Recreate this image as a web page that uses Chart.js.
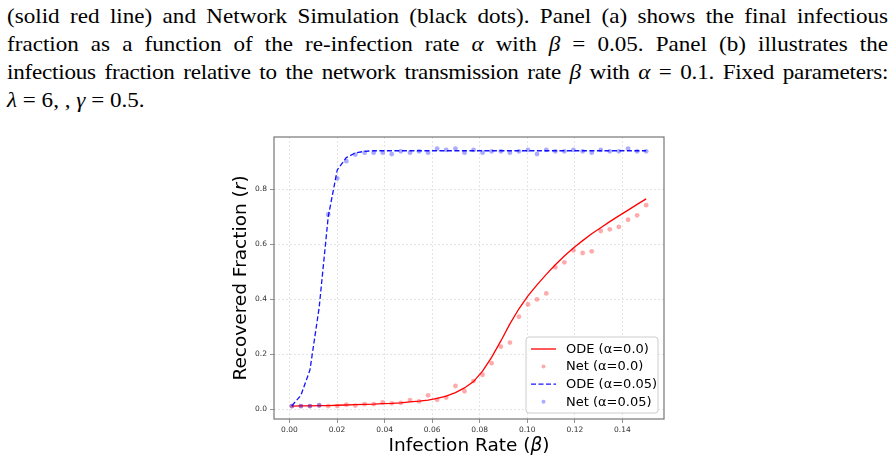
<!DOCTYPE html>
<html>
<head>
<meta charset="utf-8">
<script src="https://cdn.jsdelivr.net/npm/chart.js@4.4.1/dist/chart.umd.min.js"></script>
<style>
    body { margin: 0; background: #fff; width: 895px; height: 463px; overflow: hidden; position: relative; }
    /* Times is narrower than the LaTeX font, so stretch it a bit */
    .cap { position: absolute; left: 7px; width: 801px; transform: scaleX(1.1); transform-origin: 0 0;
           font-family: "Liberation Serif", serif; font-size: 21px; line-height: 28px; color: #000; white-space: nowrap; }
    .cap.just { white-space: normal; text-align: justify; text-align-last: justify; }
    #wrap { position: absolute; left: 220px; top: 125px; width: 460px; height: 338px; }
</style>
</head>
<body>
<div class="cap just" style="top:2px">(solid red line) and Network Simulation (black dots). Panel (a) shows the final infectious</div>
<div class="cap just" style="top:30px">fraction as a function of the re-infection rate <i>α</i> with <i>β</i> = 0.05. Panel (b) illustrates the</div>
<div class="cap just" style="top:58px;letter-spacing:-0.2px">infectious fraction relative to the network transmission rate <i>β</i> with <i>α</i> = 0.1. Fixed parameters:</div>
<div class="cap" style="top:86px"><i>λ</i> = 6, , <i>γ</i> = 0.5.</div>

<div id="wrap"><canvas id="recChart" width="460" height="338"></canvas></div>

<script>
// infection rate beta (x)
var betaValues = [0.001, 0.0048, 0.0086, 0.0125, 0.0163, 0.0201, 0.0239, 0.0277, 0.0316, 0.0354,
    0.0392, 0.0430, 0.0468, 0.0507, 0.0545, 0.0583, 0.0621, 0.0659, 0.0698, 0.0736,
    0.0774, 0.0812, 0.0850, 0.0889, 0.0927, 0.0965, 0.1003, 0.1041, 0.1080, 0.1118,
    0.1156, 0.1194, 0.1233, 0.1271, 0.1309, 0.1347, 0.1385, 0.1424, 0.1462, 0.15];

// ODE, alpha = 0.0
var odeA0 = [0.011, 0.012, 0.012, 0.013, 0.013, 0.014, 0.015, 0.016, 0.017, 0.018,
    0.020, 0.021, 0.023, 0.026, 0.029, 0.033, 0.039, 0.047, 0.060, 0.077,
    0.100, 0.138, 0.188, 0.248, 0.310, 0.365, 0.412, 0.452, 0.490, 0.525,
    0.557, 0.586, 0.613, 0.638, 0.660, 0.682, 0.703, 0.724, 0.745, 0.765];

// network sim, alpha = 0.0
var netA0 = [0.011, 0.011, 0.011, 0.013, 0.011, 0.011, 0.016, 0.013, 0.018, 0.018,
    0.024, 0.021, 0.023, 0.033, 0.028, 0.050, 0.034, 0.042, 0.084, 0.065,
    0.102, 0.125, 0.167, 0.227, 0.242, 0.336, 0.381, 0.399, 0.421, 0.516,
    0.534, 0.578, 0.568, 0.574, 0.648, 0.654, 0.663, 0.689, 0.705, 0.742];

// ODE, alpha = 0.05
var odeA05 = [0.012, 0.050, 0.142, 0.370, 0.700, 0.870, 0.915, 0.932, 0.938, 0.940,
    0.940, 0.940, 0.940, 0.940, 0.940, 0.940, 0.940, 0.940, 0.940, 0.940,
    0.940, 0.940, 0.940, 0.940, 0.940, 0.940, 0.940, 0.940, 0.940, 0.940,
    0.940, 0.940, 0.940, 0.940, 0.940, 0.940, 0.940, 0.940, 0.940, 0.940];

// network sim, alpha = 0.05
var netA05 = [0.011, 0.011, 0.011, 0.014, 0.708, 0.839, 0.902, 0.926, 0.933, 0.933,
    0.933, 0.928, 0.938, 0.933, 0.938, 0.933, 0.948, 0.943, 0.948, 0.933,
    0.943, 0.933, 0.938, 0.938, 0.933, 0.938, 0.943, 0.928, 0.943, 0.938,
    0.938, 0.943, 0.938, 0.933, 0.943, 0.938, 0.938, 0.948, 0.938, 0.938];

var xTicks = [0.00, 0.02, 0.04, 0.06, 0.08, 0.10, 0.12, 0.14];
var yTicks = [0.0, 0.2, 0.4, 0.6, 0.8];

var FONT = '"DejaVu Sans", sans-serif';
var FRAME = '#777';

function toPoints(xs, ys) {
    return xs.map(function(x, i) { return { x: x, y: ys[i] }; });
}

// draws text pieces, some italic, centred on (cx, cy)
function drawMixed(ctx, parts, cx, cy, rot) {
    ctx.save();
    ctx.translate(cx, cy);
    ctx.rotate(rot);
    ctx.textBaseline = 'middle';
    ctx.textAlign = 'left';
    ctx.fillStyle = '#000';
    var total = 0;
    parts.forEach(function(p) {
        ctx.font = (p[1] ? 'italic ' : '') + '18.5px ' + FONT;
        total += ctx.measureText(p[0]).width;
    });
    var x = -total / 2;
    parts.forEach(function(p) {
        ctx.font = (p[1] ? 'italic ' : '') + '18.5px ' + FONT;
        ctx.fillText(p[0], x, 0);
        x += ctx.measureText(p[0]).width;
    });
    ctx.restore();
}

var extras = {
    id: 'extras',
    afterDraw: function(chart) {
        var ctx = chart.ctx;
        var a = chart.chartArea;
        ctx.save();

        // frame around the plot
        ctx.strokeStyle = FRAME;
        ctx.lineWidth = 1.2;
        ctx.setLineDash([]);
        ctx.strokeRect(a.left, a.top, a.right - a.left, a.bottom - a.top);

        // axis titles
        drawMixed(ctx, [['Infection Rate (', false], ['β', true], [')', false]], (a.left + a.right) / 2, 321, 0);
        drawMixed(ctx, [['Recovered Fraction (', false], ['r', true], [')', false]], 21, (a.top + a.bottom) / 2, -Math.PI / 2);

        // legend box, lower right inside the plot
        var w = 132, h = 76;
        var lx = a.right - 6 - w, ly = a.bottom - 6 - h;
        ctx.fillStyle = 'rgba(255,255,255,0.85)';
        ctx.strokeStyle = '#cccccc';
        ctx.lineWidth = 1;
        ctx.beginPath();
        ctx.roundRect(lx, ly, w, h, 3);
        ctx.fill();
        ctx.stroke();

        ctx.font = '13px ' + FONT;
        ctx.textBaseline = 'middle';
        ctx.textAlign = 'left';
        chart.data.datasets.forEach(function(ds, i) {
            var ry = ly + 12 + i * 17.6;
            if (ds.showLine) {
                ctx.strokeStyle = ds.borderColor;
                ctx.lineWidth = ds.borderWidth;
                ctx.setLineDash(ds.borderDash || []);
                ctx.beginPath();
                ctx.moveTo(lx + 5, ry);
                ctx.lineTo(lx + 30, ry);
                ctx.stroke();
                ctx.setLineDash([]);
            } else {
                ctx.fillStyle = ds.backgroundColor;
                ctx.beginPath();
                ctx.arc(lx + 17.5, ry, 2, 0, Math.PI * 2);
                ctx.fill();
            }
            ctx.fillStyle = '#000';
            ctx.fillText(ds.label, lx + 40, ry + 0.5);
        });
        ctx.restore();
    }
};

var ctx = document.getElementById('recChart').getContext('2d');

var recChart = new Chart(ctx, {
    type: 'scatter',
    data: {
        datasets: [
            {
                label: 'ODE (α=0.0)',
                data: toPoints(betaValues, odeA0),
                showLine: true,
                borderColor: 'rgb(255,0,0)',
                borderWidth: 1.3,
                pointRadius: 0,
                tension: 0,
                order: 4
            },
            {
                label: 'Net (α=0.0)',
                data: toPoints(betaValues, netA0),
                showLine: false,
                backgroundColor: 'rgba(255,0,0,0.33)',
                borderWidth: 0,
                pointRadius: 2.4,
                order: 3
            },
            {
                label: 'ODE (α=0.05)',
                data: toPoints(betaValues, odeA05),
                showLine: true,
                borderColor: 'rgb(20,20,255)',
                borderWidth: 1.3,
                borderDash: [5, 2.5],
                pointRadius: 0,
                tension: 0,
                order: 2
            },
            {
                label: 'Net (α=0.05)',
                data: toPoints(betaValues, netA05),
                showLine: false,
                backgroundColor: 'rgba(0,0,255,0.33)',
                borderWidth: 0,
                pointRadius: 2.4,
                order: 1
            }
        ]
    },
    options: {
        responsive: false,
        animation: false,
        devicePixelRatio: 1,
        layout: { padding: { top: 12, right: 16, left: 0, bottom: 0 } },
        plugins: {
            legend: { display: false },
            tooltip: { enabled: false }
        },
        scales: {
            x: {
                type: 'linear',
                min: -0.0065,
                max: 0.1575,
                afterBuildTicks: function(s) { s.ticks = xTicks.map(function(v) { return { value: v }; }); },
                afterFit: function(s) { s.height = 44; },
                ticks: {
                    autoSkip: false,
                    maxRotation: 0,
                    padding: 3,
                    color: '#333',
                    font: { family: FONT, size: 7.5 },
                    callback: function(v) { return v.toFixed(2); }
                },
                grid: { color: '#dedede', lineWidth: 0.8, tickColor: FRAME, tickLength: 4, tickBorderDash: [] },
                border: { display: false, dash: [2, 2] }
            },
            y: {
                type: 'linear',
                min: -0.036,
                max: 0.99,
                afterBuildTicks: function(s) { s.ticks = yTicks.map(function(v) { return { value: v }; }); },
                afterFit: function(s) { s.width = 54; },
                ticks: {
                    padding: 3,
                    color: '#333',
                    font: { family: FONT, size: 7.5 },
                    callback: function(v) { return v.toFixed(1); }
                },
                grid: { color: '#dedede', lineWidth: 0.8, tickColor: FRAME, tickLength: 4, tickBorderDash: [] },
                border: { display: false, dash: [2, 2] }
            }
        }
    },
    plugins: [extras]
});
</script>
</body>
</html>
